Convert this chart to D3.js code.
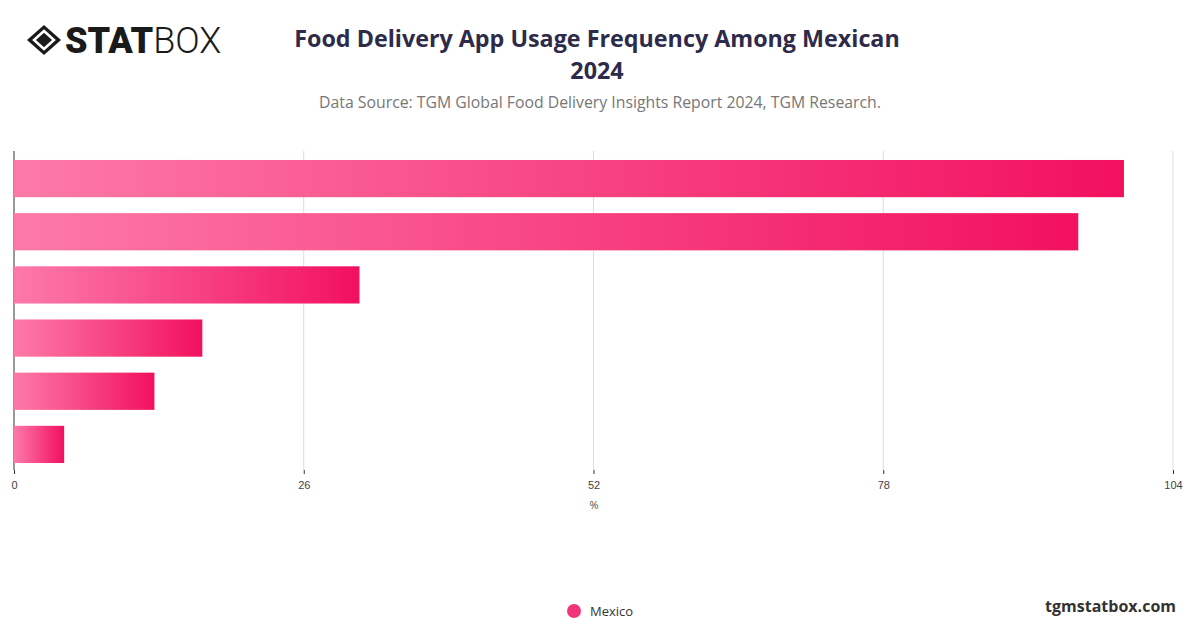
<!DOCTYPE html>
<html><head><meta charset="utf-8">
<script src="https://cdn.jsdelivr.net/npm/d3@7"></script>
<style>body{margin:0;background:#fff;font-family:"Open Sans",sans-serif}</style>
</head><body>
<svg id="c" width="1200" height="628"></svg>
<script>
// values (no category labels shown)
var categories = ["A", "B", "C", "D", "E", "F"];
var values = [99.6, 95.5, 31.0, 16.9, 12.6, 4.5];
var ticks = [0, 26, 52, 78, 104];

var svg = d3.select("#c");
var x = d3.scaleLinear().domain([0, 104]).range([14, 1173]);
var y = d3.scaleBand().domain(categories).range([152, 471]).paddingInner(0.3).paddingOuter(0.15);

var grad = svg.append("defs").append("linearGradient").attr("id", "g");
grad.append("stop").attr("offset", "0%").attr("stop-color", "#fd7aa8");
grad.append("stop").attr("offset", "100%").attr("stop-color", "#f2105f");

// grid
svg.append("g").selectAll("line").data(ticks).join("line")
  .attr("x1", d => x(d)).attr("x2", d => x(d))
  .attr("y1", 151).attr("y2", 470)
  .attr("stroke", d => d === 0 ? "#333" : "#ddd");

svg.append("g").selectAll("rect").data(values).join("rect")
  .attr("x", x(0)).attr("y", (d, i) => y(categories[i]))
  .attr("width", d => x(d) - x(0)).attr("height", y.bandwidth())
  .attr("fill", "url(#g)");

var ax = svg.append("g").attr("transform", "translate(0,470)")
  .call(d3.axisBottom(x).tickValues(ticks).tickSize(4));
ax.select(".domain").remove();
ax.selectAll("line").attr("stroke", "#333");
ax.selectAll("text").attr("font-size", 11).attr("fill", "#444").attr("dy", "1.1em");

svg.append("text").attr("x", 594).attr("y", 509).attr("text-anchor", "middle")
  .attr("font-size", 11).attr("fill", "#555").text("%");

// titles
svg.append("text").attr("x", 597).attr("y", 47).attr("text-anchor", "middle")
  .attr("font-size", 23.3).attr("font-weight", 700).attr("fill", "#2e2b4a").text("Food Delivery App Usage Frequency Among Mexican");
svg.append("text").attr("x", 597).attr("y", 79).attr("text-anchor", "middle")
  .attr("font-size", 23.3).attr("font-weight", 700).attr("fill", "#2e2b4a").text("2024");
svg.append("text").attr("x", 600).attr("y", 108).attr("text-anchor", "middle")
  .attr("font-size", 15.8).attr("fill", "#777").text("Data Source: TGM Global Food Delivery Insights Report 2024, TGM Research.");

// logo
var lg = svg.append("g").attr("transform", "translate(44,40)");
lg.append("path").attr("d", "M-17,0 L0,-15 L17,0 L0,15 Z").attr("fill", "#1a1a1a");
lg.append("path").attr("d", "M-10,0 L0,-9 L10,0 L0,9 Z").attr("fill", "none").attr("stroke", "#fff").attr("stroke-width", 2.5);
svg.append("text").attr("x", 65).attr("y", 53).attr("font-size", 36).attr("font-weight", 900)
  .attr("font-family", "Roboto, sans-serif").attr("fill", "#1a1a1a")
  .html('<tspan>STAT</tspan><tspan font-weight="300">BOX</tspan>');

// legend
svg.append("circle").attr("cx", 574).attr("cy", 611).attr("r", 7).attr("fill", "#f0357a");
svg.append("text").attr("x", 590).attr("y", 616).attr("font-size", 13).attr("fill", "#333").text("Mexico");
svg.append("text").attr("x", 1176).attr("y", 612).attr("text-anchor", "end").attr("font-size", 16)
  .attr("font-weight", 700).attr("fill", "#333").text("tgmstatbox.com");
</script>
</body></html>
